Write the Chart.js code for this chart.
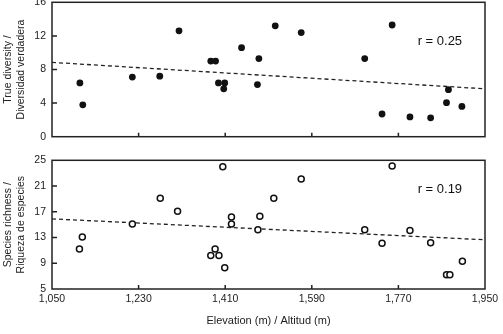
<!DOCTYPE html>
<html>
<head>
<meta charset="utf-8">
<script src="https://cdn.jsdelivr.net/npm/chart.js@4.4.1/dist/chart.umd.min.js"></script>
<style>
body { margin: 0; background: #fff; width: 503px; height: 334px; overflow: hidden; position: relative; }
#chartTop { position: absolute; left: 0; top: -10px; }
#chartBottom { position: absolute; left: 0; top: 148px; }
</style>
</head>
<body>
<canvas id="chartTop" width="503" height="159"></canvas>
<canvas id="chartBottom" width="503" height="186"></canvas>
<script>
// elevation of each site (m) and the two response variables
var elevDiv = [1108, 1114, 1217, 1274, 1314, 1380, 1390, 1396, 1409, 1407, 1444, 1480, 1477, 1514, 1568, 1700, 1757, 1736, 1794, 1837, 1874, 1870, 1902];
var trueDiv = [6.4, 3.8, 7.1, 7.2, 12.6, 9.0, 9.0, 6.4, 6.4, 5.7, 10.6, 9.3, 6.2, 13.2, 12.4, 9.3, 13.3, 2.7, 2.35, 2.25, 5.6, 4.05, 3.6];

var elevRich = [1107, 1113, 1217, 1275, 1311, 1380, 1389, 1397, 1409, 1405, 1423, 1423, 1478, 1482, 1511, 1568, 1700, 1757, 1736, 1794, 1837, 1870, 1877, 1903];
var richness = [11.2, 13.1, 15.1, 19.1, 17.1, 10.2, 11.2, 10.2, 8.3, 24.0, 16.2, 15.1, 14.2, 16.3, 19.1, 22.1, 14.2, 24.1, 12.1, 14.1, 12.2, 7.2, 7.2, 9.3];

// regression lines (value at 1050 m and 1950 m)
var trendX = [1050, 1950];
var divTrend = [8.85, 5.7];
var richTrend = [15.9, 12.65];

var elevTicks = [1050, 1230, 1410, 1590, 1770, 1950];
var divTicks = [0, 4, 8, 12, 16];
var richTicks = [5, 9, 13, 17, 21, 25];

Chart.defaults.font.family = '"Liberation Sans", Arial, sans-serif';
Chart.defaults.color = '#222';

function pts(xs, ys) {
    return xs.map(function (x, i) { return { x: x, y: ys[i] }; });
}

// box round the plot, inward ticks and the r label
function framePlugin(yTicks, label, lx, ly) {
    return {
        id: 'frame',
        afterDraw: function (chart) {
            var ctx = chart.ctx, a = chart.chartArea;
            var xs = chart.scales.x, ys = chart.scales.y;
            ctx.save();
            ctx.strokeStyle = '#222';
            ctx.lineWidth = 1.5;
            ctx.strokeRect(a.left, a.top, a.right - a.left, a.bottom - a.top);
            ctx.beginPath();
            elevTicks.slice(1, -1).forEach(function (v) {
                var px = xs.getPixelForValue(v);
                ctx.moveTo(px, a.bottom);
                ctx.lineTo(px, a.bottom - 4);
            });
            yTicks.slice(1, -1).forEach(function (v) {
                var py = ys.getPixelForValue(v);
                ctx.moveTo(a.left, py);
                ctx.lineTo(a.left + 5, py);
            });
            ctx.stroke();
            ctx.fillStyle = '#111';
            ctx.font = '13px "Liberation Sans", Arial';
            ctx.textBaseline = 'middle';
            ctx.fillText(label, xs.getPixelForValue(lx), ys.getPixelForValue(ly));
            ctx.restore();
        }
    };
}

function yAxis(min, max, title) {
    return {
        min: min, max: max,
        grid: { display: false, drawTicks: false },
        border: { display: false },
        ticks: { stepSize: 4, padding: 6, font: { size: 10.5 }, color: '#222' },
        title: { display: true, text: title, font: { size: 10.5, lineHeight: 1.25 }, padding: { top: 1.5 }, color: '#222' },
        afterFit: function (s) { s.width = 52; }
    };
}

new Chart(document.getElementById('chartTop'), {
    type: 'scatter',
    data: {
        datasets: [{
            data: pts(elevDiv, trueDiv),
            backgroundColor: '#111',
            borderWidth: 0,
            pointRadius: 3.4,
            order: 1
        }, {
            data: pts(trendX, divTrend),
            showLine: true,
            borderColor: '#222',
            borderWidth: 1.3,
            borderDash: [4, 3],
            pointRadius: 0,
            order: 2
        }]
    },
    options: {
        responsive: false,
        animation: false,
        layout: { padding: { left: 0, right: 18, top: 0, bottom: 0 } },
        plugins: { legend: { display: false }, tooltip: { enabled: false } },
        scales: {
            x: { type: 'linear', min: 1050, max: 1950, display: false },
            y: yAxis(0, 16, ['True diversity /', 'Diversidad verdadera'])
        }
    },
    plugins: [framePlugin(divTicks, 'r = 0.25', 1810, 11.3)]
});

new Chart(document.getElementById('chartBottom'), {
    type: 'scatter',
    data: {
        datasets: [{
            data: pts(elevRich, richness),
            backgroundColor: '#fff',
            borderColor: '#111',
            borderWidth: 1.5,
            pointRadius: 3,
            order: 1
        }, {
            data: pts(trendX, richTrend),
            showLine: true,
            borderColor: '#222',
            borderWidth: 1.3,
            borderDash: [4, 3],
            pointRadius: 0,
            order: 2
        }]
    },
    options: {
        responsive: false,
        animation: false,
        layout: { padding: { left: 0, right: 18, top: 0, bottom: 0 } },
        plugins: { legend: { display: false }, tooltip: { enabled: false } },
        scales: {
            x: {
                type: 'linear', min: 1050, max: 1950,
                grid: { display: false, drawTicks: false },
                border: { display: false },
                afterBuildTicks: function (s) { s.ticks = elevTicks.map(function (v) { return { value: v }; }); },
                ticks: {
                    padding: 4, font: { size: 10.5 }, color: '#222', maxRotation: 0,
                    callback: function (v) { return v.toLocaleString('en-US'); }
                },
                title: { display: true, text: 'Elevation (m) / Altitud (m)', font: { size: 11 }, padding: { top: 4, bottom: 6 }, color: '#222' },
                afterFit: function (s) { s.height = 45; }
            },
            y: yAxis(5, 25, ['Species richness /', 'Riqueza de especies'])
        }
    },
    plugins: [framePlugin(richTicks, 'r = 0.19', 1810, 20.4)]
});
</script>
</body>
</html>
